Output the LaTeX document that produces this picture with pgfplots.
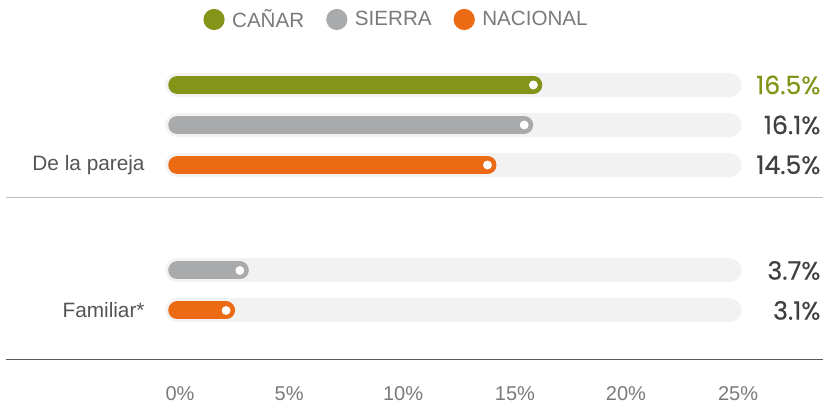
\documentclass[border=0pt]{standalone}
\usepackage{pgfplots}
\pgfplotsset{compat=1.18}
\usepackage{fontspec}
\setmainfont{Liberation Sans}
\newfontfamily\valfont{Poppins}[FakeBold=0.4]

\definecolor{cgreen}{HTML}{849419}
\definecolor{cgrey}{HTML}{A9AAAC}
\definecolor{corange}{HTML}{EC6A14}
\definecolor{ctrack}{HTML}{F2F2F2}
\definecolor{ccat}{HTML}{555555}
\definecolor{clab}{HTML}{7A7A7A}
\definecolor{cval}{HTML}{404040}

\pgfplotsset{
  track/.style={forget plot, color=ctrack, line width=12pt, line cap=round},
  bar/.style={line width=9pt, line cap=round},
  dot/.style={forget plot, only marks, color=white, mark=*, mark size=2pt,
               mark options={fill=white, draw=white, line width=0.4pt}},
  vallab/.style={forget plot, draw=none, point meta=explicit symbolic,
                 nodes near coords,
                 every node near coord/.append style={anchor=east, inner sep=0pt,
                   font=\valfont\fontsize{12.6}{14}\selectfont, text=#1}},
}

\begin{document}
\begin{tikzpicture}
\begin{axis}[
  width=413.5pt, height=203pt, scale only axis,
  xmin=-6.760, xmax=29.307, ymin=0, ymax=406,
  clip=false,
  axis line style={draw=none}, major tick length=0pt, tick style={draw=none},
  xtick={1.09,5.85,10.82,15.70,20.54,25.43},
  xticklabels={0\%,5\%,10\%,15\%,20\%,25\%},
  xticklabel style={anchor=base, yshift=2.5pt, text=clab,
                    font=\fontsize{10}{12}\selectfont},
  ytick={241,96},
  yticklabels={De la pareja,Familiar*},
  yticklabel style={anchor=east, xshift=72.5pt, inner sep=0pt, text=ccat,
                    font=\fontsize{10.4}{12}\selectfont},
  legend style={draw=none, fill=none, at={(0.4807,0.952)}, anchor=center,
                inner sep=0pt, legend columns=3,
                font=\fontsize{10.3}{12}\selectfont, text=clab,
                /tikz/every odd column/.append style={column sep=1.75pt},
                /tikz/every even column/.append style={column sep=9pt}},
  legend cell align=left,
  legend image code/.code={\fill[draw=none] (0pt,0pt) circle (5.3pt);},
]
% separators
\addplot[forget plot, color=black!25, line width=0.75pt] coordinates {(-6.50,208.5) (29.13,208.5)};
\addplot[forget plot, color=black!65, line width=0.75pt] coordinates {(-6.50,46.3) (29.13,46.3)};

% background tracks
\addplot[track] coordinates {(0.97,321) (25.06,321)};
\addplot[track] coordinates {(0.97,281) (25.06,281)};
\addplot[track] coordinates {(0.97,241) (25.06,241)};
\addplot[track] coordinates {(0.97,135.5) (25.06,135.5)};
\addplot[track] coordinates {(0.97,95.5) (25.06,95.5)};

% bars
\addplot[bar, color=cgreen] coordinates {(0.97,321) (16.5,321)};
\addlegendentry{CAÑAR}
\addplot[bar, color=cgrey] coordinates {(0.97,281) (16.1,281)};
\addlegendentry{SIERRA}
\addplot[bar, color=corange] coordinates {(0.97,241) (14.5,241)};
\addlegendentry{NACIONAL}
\addplot[bar, color=cgrey, forget plot] coordinates {(0.97,135.5) (3.7,135.5)};
\addplot[bar, color=corange, forget plot] coordinates {(0.97,95.5) (3.1,95.5)};

% end dots
\addplot[dot] coordinates {(16.5,321) (16.1,281) (14.5,241) (3.7,135.5) (3.1,95.5)};

% value labels
\addplot[vallab=cgreen] coordinates {(29.04,321) [16.5\%]};
\addplot[vallab=cval] coordinates {(29.04,281) [16.1\%] (29.04,241) [14.5\%]
  (29.04,135.5) [3.7\%] (29.04,95.5) [3.1\%]};
\end{axis}
\end{tikzpicture}
\end{document}
